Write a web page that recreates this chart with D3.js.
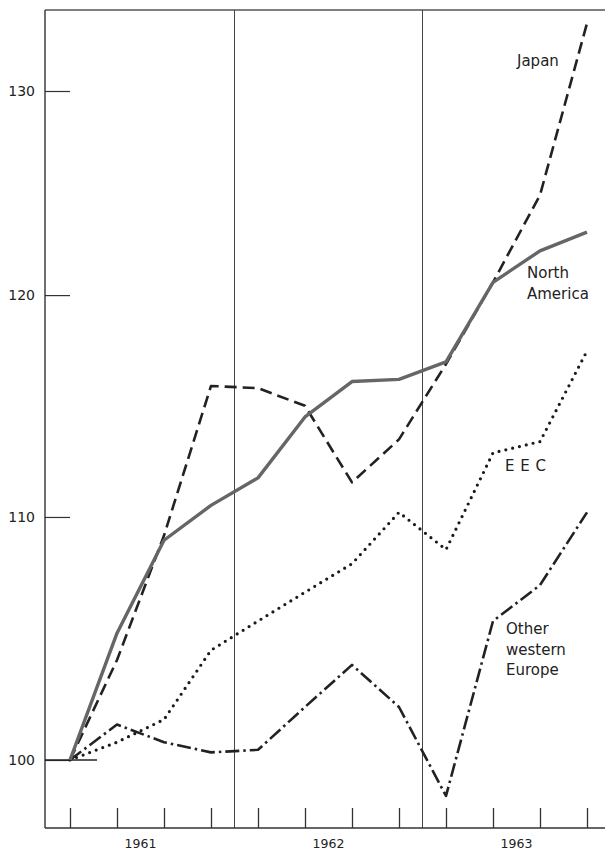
<!DOCTYPE html>
<html>
<head>
<meta charset="utf-8">
<script src="https://cdn.jsdelivr.net/npm/d3@7"></script>
<style>
  html, body { margin: 0; padding: 0; background: #fff; }
  svg { display: block; }
  text { font-family: "DejaVu Sans", "Noto Sans", sans-serif; fill: #222; }
</style>
</head>
<body>
<svg id="chart" width="605" height="853"></svg>
<script>
// ---- data (index, 1961 I = 100) ----
const quarters = ["1961 I","1961 II","1961 III","1961 IV","1962 I","1962 II","1962 III","1962 IV","1963 I","1963 II","1963 III","1963 IV"];
const years = ["1961","1962","1963"];
const yTicks = [100, 110, 120, 130];
const northAmerica = [100, 105.1, 109.0, 110.5, 111.7, 114.4, 116.0, 116.1, 116.9, 120.6, 122.1, 123.0];
const japan        = [100, 104.0, 109.2, 115.8, 115.7, 114.9, 111.5, 113.4, 116.8, 120.6, 124.8, 133.5];
const eec          = [100, 100.7, 101.6, 104.4, 105.6, 106.8, 108.0, 110.2, 108.6, 112.8, 113.3, 117.4];
const otherEurope  = [100, 101.4, 100.7, 100.3, 100.4, 102.1, 103.8, 102.1, 98.6, 105.6, 107.1, 110.2];

const svg = d3.select("#chart");
const x = d3.scalePoint().domain(quarters).range([70, 587]);
const y = d3.scaleLog().domain([100, 130]).range([760, 91]);

const axisX = 45, topY = 10, baseY = 828;
const FONT = "'DejaVu Sans', 'Noto Sans', sans-serif";

// frame
svg.append("line").attr("x1", axisX).attr("x2", 605).attr("y1", topY).attr("y2", topY)
  .attr("stroke", "#555").attr("stroke-width", 1.3);

// year separators (between Q4 and next Q1)
[3, 7].forEach(i => {
  const xm = (x(quarters[i]) + x(quarters[i + 1])) / 2;
  svg.append("line").attr("x1", xm).attr("x2", xm).attr("y1", topY).attr("y2", baseY)
    .attr("stroke", "#444").attr("stroke-width", 1);
});

// y axis
const gy = svg.append("g").attr("transform", `translate(${axisX},0)`)
  .call(d3.axisLeft(y).tickValues(yTicks).tickFormat(d3.format("d")).tickSize(-25).tickPadding(10));
gy.select(".domain").remove();
gy.selectAll(".tick line").attr("stroke", "#333").attr("stroke-width", 1.2);
gy.selectAll(".tick text").attr("font-size", 14).attr("font-family", FONT).attr("fill", "#222");
svg.append("line").attr("x1", axisX).attr("x2", axisX).attr("y1", topY).attr("y2", baseY)
  .attr("stroke", "#333").attr("stroke-width", 1.4);

// x axis
const gx = svg.append("g").attr("transform", `translate(0,${baseY})`)
  .call(d3.axisBottom(x).tickSize(-20).tickFormat(""));
gx.select(".domain").attr("d", `M${axisX},0H605`).attr("stroke", "#333").attr("stroke-width", 1.4);
gx.selectAll(".tick line").attr("stroke", "#333").attr("stroke-width", 1.3);

// year labels centred between 2nd and 3rd quarter
years.forEach((yr, k) => {
  const xm = (x(quarters[k * 4 + 1]) + x(quarters[k * 4 + 2])) / 2;
  svg.append("text").attr("x", xm).attr("y", 848).attr("text-anchor", "middle")
    .attr("font-size", 12.5).text(yr);
});

// base line at 100
svg.append("line").attr("x1", axisX).attr("x2", 97).attr("y1", y(100)).attr("y2", y(100))
  .attr("stroke", "#222").attr("stroke-width", 1.5);

const line = d3.line().x((d, i) => x(quarters[i])).y(d => y(d));

function drawSeries(vals, opts) {
  svg.append("path").datum(vals).attr("d", line)
    .attr("fill", "none")
    .attr("stroke", opts.color)
    .attr("stroke-width", opts.width)
    .attr("stroke-dasharray", opts.dash || null)
    .attr("stroke-linecap", opts.cap || "butt")
    .attr("stroke-linejoin", "round");
}

drawSeries(otherEurope, { color: "#222", width: 2.6, dash: "14,4,2.5,4" });
drawSeries(eec, { color: "#1a1a1a", width: 3.2, dash: "0,7", cap: "round" });
drawSeries(japan, { color: "#222", width: 2.6, dash: "12,6" });
drawSeries(northAmerica, { color: "#666", width: 3.4 });

// labels
function label(lines, x0, y0, opts = {}) {
  lines.forEach((t, i) => {
    svg.append("text").attr("x", x0).attr("y", y0 + i * 20.5)
      .attr("font-size", 15).attr("letter-spacing", opts.ls || 0).text(t);
  });
}
label(["Japan"], 517, 66);
label(["North", "America"], 527, 278);
label(["E E C"], 505, 471, { ls: 0.5 });
label(["Other", "western", "Europe"], 506, 634);
</script>
</body>
</html>
